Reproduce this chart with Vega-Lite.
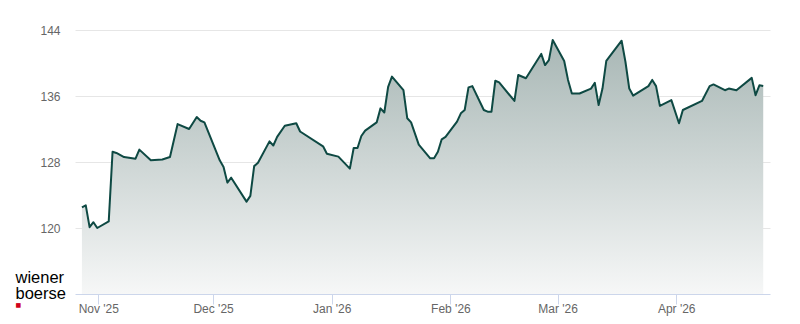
{
  "$schema": "https://vega.github.io/schema/vega-lite/v6.json",
  "width": 695,
  "height": 264,
  "autosize": {"type": "none"},
  "padding": {"left": 75, "top": 30, "right": 30, "bottom": 30},
  "background": "#ffffff",
  "data": {
    "values": [
      {"date": "2025-10-27T17:30:00Z", "price": 122.5},
      {"date": "2025-10-28T17:30:00Z", "price": 122.75},
      {"date": "2025-10-29T17:30:00Z", "price": 120.1},
      {"date": "2025-10-30T17:30:00Z", "price": 120.7},
      {"date": "2025-10-31T17:30:00Z", "price": 120.0},
      {"date": "2025-11-03T17:30:00Z", "price": 120.8},
      {"date": "2025-11-04T17:30:00Z", "price": 129.25},
      {"date": "2025-11-05T17:30:00Z", "price": 129.1},
      {"date": "2025-11-07T17:30:00Z", "price": 128.6},
      {"date": "2025-11-10T17:30:00Z", "price": 128.4},
      {"date": "2025-11-11T17:30:00Z", "price": 129.5},
      {"date": "2025-11-14T17:30:00Z", "price": 128.2},
      {"date": "2025-11-17T17:30:00Z", "price": 128.3},
      {"date": "2025-11-19T17:30:00Z", "price": 128.6},
      {"date": "2025-11-21T17:30:00Z", "price": 132.6},
      {"date": "2025-11-24T17:30:00Z", "price": 132.0},
      {"date": "2025-11-26T17:30:00Z", "price": 133.45},
      {"date": "2025-11-27T17:30:00Z", "price": 133.0},
      {"date": "2025-11-28T17:30:00Z", "price": 132.8},
      {"date": "2025-12-02T17:30:00Z", "price": 128.2},
      {"date": "2025-12-03T17:30:00Z", "price": 127.4},
      {"date": "2025-12-04T17:30:00Z", "price": 125.5},
      {"date": "2025-12-05T17:30:00Z", "price": 126.1},
      {"date": "2025-12-09T17:30:00Z", "price": 123.2},
      {"date": "2025-12-10T17:30:00Z", "price": 123.9},
      {"date": "2025-12-11T17:30:00Z", "price": 127.5},
      {"date": "2025-12-12T17:30:00Z", "price": 127.9},
      {"date": "2025-12-15T17:30:00Z", "price": 130.5},
      {"date": "2025-12-16T17:30:00Z", "price": 130.0},
      {"date": "2025-12-17T17:30:00Z", "price": 131.05},
      {"date": "2025-12-19T17:30:00Z", "price": 132.4},
      {"date": "2025-12-22T17:30:00Z", "price": 132.7},
      {"date": "2025-12-23T17:30:00Z", "price": 131.7},
      {"date": "2025-12-29T17:30:00Z", "price": 129.9},
      {"date": "2025-12-30T17:30:00Z", "price": 129.0},
      {"date": "2026-01-02T17:30:00Z", "price": 128.65},
      {"date": "2026-01-05T17:30:00Z", "price": 127.2},
      {"date": "2026-01-06T17:30:00Z", "price": 129.7},
      {"date": "2026-01-07T17:30:00Z", "price": 129.7},
      {"date": "2026-01-08T17:30:00Z", "price": 131.15},
      {"date": "2026-01-09T17:30:00Z", "price": 131.8},
      {"date": "2026-01-12T17:30:00Z", "price": 132.8},
      {"date": "2026-01-13T17:30:00Z", "price": 134.5},
      {"date": "2026-01-14T17:30:00Z", "price": 134.0},
      {"date": "2026-01-15T17:30:00Z", "price": 137.1},
      {"date": "2026-01-16T17:30:00Z", "price": 138.35},
      {"date": "2026-01-19T17:30:00Z", "price": 136.7},
      {"date": "2026-01-20T17:30:00Z", "price": 133.3},
      {"date": "2026-01-21T17:30:00Z", "price": 132.8},
      {"date": "2026-01-23T17:30:00Z", "price": 130.1},
      {"date": "2026-01-26T17:30:00Z", "price": 128.45},
      {"date": "2026-01-27T17:30:00Z", "price": 128.45},
      {"date": "2026-01-28T17:30:00Z", "price": 129.25},
      {"date": "2026-01-29T17:30:00Z", "price": 130.75},
      {"date": "2026-01-30T17:30:00Z", "price": 131.05},
      {"date": "2026-02-02T17:30:00Z", "price": 132.9},
      {"date": "2026-02-03T17:30:00Z", "price": 133.9},
      {"date": "2026-02-04T17:30:00Z", "price": 134.3},
      {"date": "2026-02-05T17:30:00Z", "price": 137.05},
      {"date": "2026-02-06T17:30:00Z", "price": 137.2},
      {"date": "2026-02-09T17:30:00Z", "price": 134.3},
      {"date": "2026-02-10T17:30:00Z", "price": 134.1},
      {"date": "2026-02-11T17:30:00Z", "price": 134.1},
      {"date": "2026-02-12T17:30:00Z", "price": 137.85},
      {"date": "2026-02-13T17:30:00Z", "price": 137.65},
      {"date": "2026-02-17T17:30:00Z", "price": 135.4},
      {"date": "2026-02-18T17:30:00Z", "price": 138.55},
      {"date": "2026-02-20T17:30:00Z", "price": 138.15},
      {"date": "2026-02-24T17:30:00Z", "price": 141.1},
      {"date": "2026-02-25T17:30:00Z", "price": 139.75},
      {"date": "2026-02-26T17:30:00Z", "price": 140.35},
      {"date": "2026-02-27T17:30:00Z", "price": 142.8},
      {"date": "2026-03-02T17:30:00Z", "price": 140.25},
      {"date": "2026-03-03T17:30:00Z", "price": 137.95},
      {"date": "2026-03-04T17:30:00Z", "price": 136.3},
      {"date": "2026-03-06T17:30:00Z", "price": 136.3},
      {"date": "2026-03-09T17:30:00Z", "price": 136.9},
      {"date": "2026-03-10T17:30:00Z", "price": 137.6},
      {"date": "2026-03-11T17:30:00Z", "price": 134.9},
      {"date": "2026-03-12T17:30:00Z", "price": 136.9},
      {"date": "2026-03-13T17:30:00Z", "price": 140.25},
      {"date": "2026-03-17T17:30:00Z", "price": 142.7},
      {"date": "2026-03-18T17:30:00Z", "price": 140.15},
      {"date": "2026-03-19T17:30:00Z", "price": 136.9},
      {"date": "2026-03-20T17:30:00Z", "price": 136.05},
      {"date": "2026-03-24T17:30:00Z", "price": 137.2},
      {"date": "2026-03-25T17:30:00Z", "price": 137.95},
      {"date": "2026-03-26T17:30:00Z", "price": 137.2},
      {"date": "2026-03-27T17:30:00Z", "price": 134.8},
      {"date": "2026-03-30T17:30:00Z", "price": 135.5},
      {"date": "2026-04-01T17:30:00Z", "price": 132.7},
      {"date": "2026-04-02T17:30:00Z", "price": 134.3},
      {"date": "2026-04-07T17:30:00Z", "price": 135.4},
      {"date": "2026-04-09T17:30:00Z", "price": 137.2},
      {"date": "2026-04-10T17:30:00Z", "price": 137.4},
      {"date": "2026-04-13T17:30:00Z", "price": 136.7},
      {"date": "2026-04-14T17:30:00Z", "price": 136.9},
      {"date": "2026-04-16T17:30:00Z", "price": 136.7},
      {"date": "2026-04-20T17:30:00Z", "price": 138.2},
      {"date": "2026-04-21T17:30:00Z", "price": 136.1},
      {"date": "2026-04-22T17:30:00Z", "price": 137.3},
      {"date": "2026-04-23T17:30:00Z", "price": 137.2}
    ]
  },
  "encoding": {
    "x": {
      "field": "date",
      "type": "temporal",
      "scale": {
        "type": "utc",
        "domain": [
          {"year": 2025, "month": 10, "date": 25, "hours": 22, "utc": true},
          {"year": 2026, "month": 4, "date": 25, "hours": 12, "utc": true}
        ]
      },
      "axis": {
        "title": "■",
        "titleFont": "DejaVu Sans",
        "titleFontSize": 6,
        "titleFontWeight": "normal",
        "titleColor": "#d0021b",
        "titleAlign": "left",
        "titleBaseline": "alphabetic",
        "titleAnchor": "start",
        "titleX": -60,
        "titleY": 12.5,
        "values": [
          {"year": 2025, "month": 11, "date": 1, "utc": true},
          {"year": 2025, "month": 12, "date": 1, "utc": true},
          {"year": 2026, "month": 1, "date": 1, "utc": true},
          {"year": 2026, "month": 2, "date": 1, "utc": true},
          {"year": 2026, "month": 3, "date": 1, "utc": true},
          {"year": 2026, "month": 4, "date": 1, "utc": true}
        ],
        "format": "%b '%y",
        "grid": false,
        "domainColor": "#ccd6eb",
        "domainWidth": 1,
        "tickColor": "#ccd6eb",
        "tickSize": 10,
        "tickWidth": 1,
        "labelColor": "#666666",
        "labelFont": "Liberation Sans",
        "labelFontSize": 12,
        "labelPadding": -1,
        "labelFlush": false,
        "labelOverlap": false
      }
    },
    "y": {
      "field": "price",
      "type": "quantitative",
      "scale": {"domain": [112, 144], "zero": false, "nice": false},
      "axis": {
        "title": ["wiener", "boerse"],
        "titleFont": "Liberation Sans",
        "titleFontSize": 16.5,
        "titleFontWeight": "normal",
        "titleColor": "#000000",
        "titleAngle": 0,
        "titleAlign": "left",
        "titleBaseline": "alphabetic",
        "titleLineHeight": 15.5,
        "titleX": -60,
        "titleY": 252.5,
        "values": [120, 128, 136, 144],
        "domain": false,
        "ticks": false,
        "tickSize": 0,
        "gridColor": "#e6e6e6",
        "gridWidth": 1,
        "labelColor": "#666666",
        "labelFont": "Liberation Sans",
        "labelFontSize": 12,
        "labelPadding": 15
      }
    }
  },
  "layer": [
    {
      "mark": {
        "type": "area",
        "opacity": 1,
        "fillOpacity": 1,
        "clip": true,
        "fill": {
          "gradient": "linear",
          "x1": 0, "y1": 0, "x2": 0, "y2": 1,
          "stops": [
            {"offset": 0, "color": "#a8b7b5"},
            {"offset": 1, "color": "#f6f7f7"}
          ]
        }
      },
      "encoding": {
        "y2": {"datum": 112}
      }
    },
    {
      "mark": {"type": "line", "color": "#0e4943", "strokeWidth": 2, "strokeJoin": "round"}
    }
  ],
  "config": {
    "view": {"stroke": null}
  }
}
